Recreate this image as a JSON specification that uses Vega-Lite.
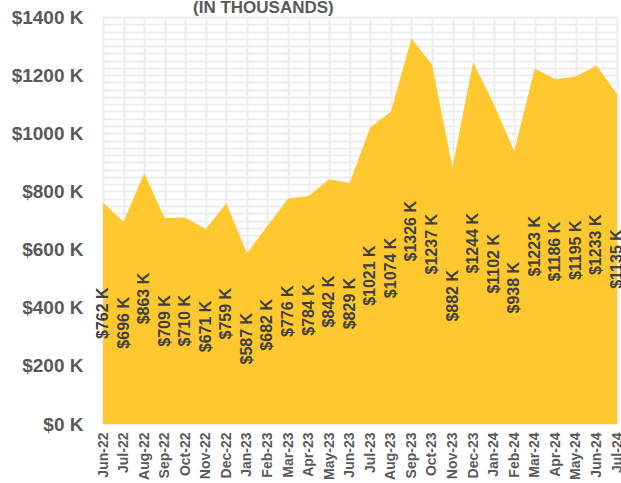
{
  "$schema": "https://vega.github.io/schema/vega-lite/v6.json",
  "width": 514,
  "height": 407,
  "autosize": {"type": "none"},
  "padding": {"left": 103, "top": 17, "right": 4, "bottom": 59},
  "background": "white",
  "title": {
    "text": "(IN THOUSANDS)",
    "anchor": "start",
    "frame": "group",
    "dx": 90,
    "dy": 22,
    "offset": 0,
    "baseline": "alphabetic",
    "font": "Liberation Sans",
    "fontSize": 17,
    "fontWeight": "bold",
    "color": "#595959"
  },
  "config": {
    "view": {"stroke": null},
    "font": "Liberation Sans"
  },
  "data": {
    "values": [
      {"month": "Jun-22", "value": 762},
      {"month": "Jul-22", "value": 696},
      {"month": "Aug-22", "value": 863},
      {"month": "Sep-22", "value": 709},
      {"month": "Oct-22", "value": 710},
      {"month": "Nov-22", "value": 671},
      {"month": "Dec-22", "value": 759},
      {"month": "Jan-23", "value": 587},
      {"month": "Feb-23", "value": 682},
      {"month": "Mar-23", "value": 776},
      {"month": "Apr-23", "value": 784},
      {"month": "May-23", "value": 842},
      {"month": "Jun-23", "value": 829},
      {"month": "Jul-23", "value": 1021},
      {"month": "Aug-23", "value": 1074},
      {"month": "Sep-23", "value": 1326},
      {"month": "Oct-23", "value": 1237},
      {"month": "Nov-23", "value": 882},
      {"month": "Dec-23", "value": 1244},
      {"month": "Jan-24", "value": 1102},
      {"month": "Feb-24", "value": 938},
      {"month": "Mar-24", "value": 1223},
      {"month": "Apr-24", "value": 1186},
      {"month": "May-24", "value": 1195},
      {"month": "Jun-24", "value": 1233},
      {"month": "Jul-24", "value": 1135}
    ]
  },
  "encoding": {
    "x": {
      "field": "month",
      "type": "ordinal",
      "sort": null,
      "scale": {"type": "point", "padding": 0},
      "axis": {
        "title": null,
        "labelAngle": 270,
        "labelAlign": "right",
        "labelBaseline": "middle",
        "labelPadding": 8,
        "labelFontSize": 14,
        "labelFontWeight": "bold",
        "labelColor": "#595959",
        "ticks": false,
        "domain": false,
        "grid": true,
        "gridColor": "#EDEDED",
        "gridWidth": 2,
        "zindex": 0
      }
    }
  },
  "layer": [
    {
      "mark": {"type": "area", "color": "#FFC82E", "opacity": 1, "clip": true},
      "encoding": {
        "y": {
          "field": "value",
          "type": "quantitative",
          "scale": {"domain": [0, 1400], "nice": false},
          "axis": {
            "title": null,
            "values": [0,25,50,75,100,125,150,175,200,225,250,275,300,325,350,375,400,425,450,475,500,525,550,575,600,625,650,675,700,725,750,775,800,825,850,875,900,925,950,975,1000,1025,1050,1075,1100,1125,1150,1175,1200,1225,1250,1275,1300,1325,1350,1375,1400],
            "labelExpr": "datum.value % 200 === 0 ? '$' + datum.value + ' K' : ''",
            "labelFontSize": 19,
            "labelFontWeight": "bold",
            "labelColor": "#595959",
            "labelPadding": 20,
            "labelOverlap": false,
            "ticks": false,
            "domain": false,
            "grid": true,
            "gridColor": "#EDEDED",
            "gridWidth": 2
          }
        }
      }
    },
    {
      "transform": [{"calculate": "'$' + datum.value + ' K'", "as": "label"}],
      "mark": {
        "type": "text",
        "angle": 270,
        "align": "center",
        "baseline": "middle",
        "fontSize": 16,
        "fontWeight": "bold",
        "color": "#404040"
      },
      "encoding": {
        "y": {
          "field": "value",
          "type": "quantitative",
          "scale": {"domain": [0, 2800], "nice": false},
          "axis": null
        },
        "text": {"field": "label"}
      }
    }
  ],
  "resolve": {"scale": {"y": "independent"}}
}
